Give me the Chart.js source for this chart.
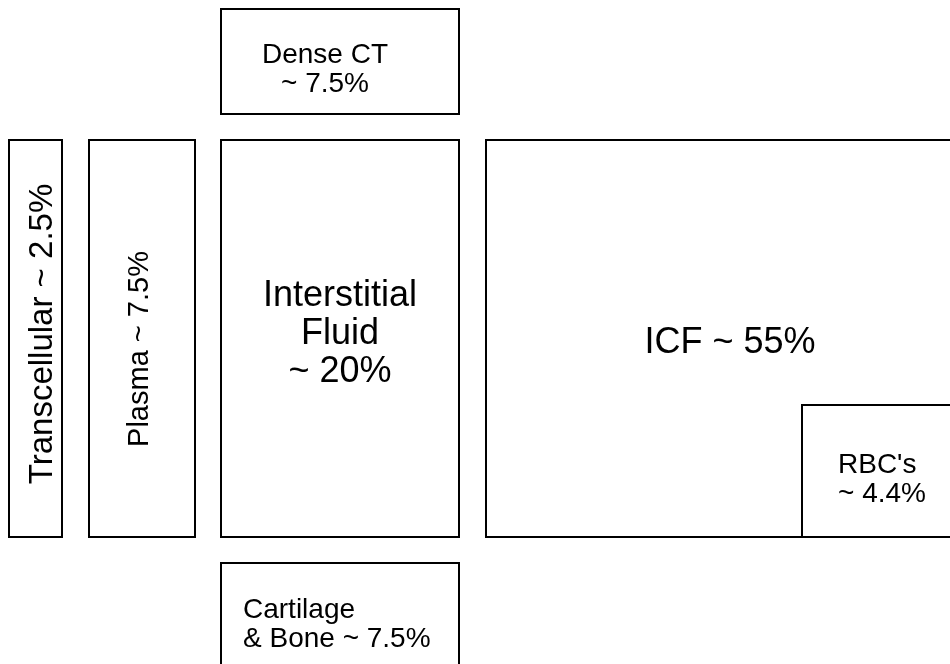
<!DOCTYPE html>
<html>
<head>
<meta charset="utf-8">
<script src="https://cdn.jsdelivr.net/npm/chart.js@4/dist/chart.umd.min.js"></script>
<style>
  html, body { margin: 0; padding: 0; background: #fff; }
  #wrap { width: 950px; height: 664px; }
</style>
</head>
<body>
<div id="wrap"><canvas id="fluids"></canvas></div>
<script>
// compartments of total body water, in diagram units (0..950 x 0..664)
const compartments = ['Dense CT', 'Transcellular', 'Plasma', 'Interstitial Fluid', 'ICF', "RBC's", 'Cartilage & Bone']
const shares = [7.5, 2.5, 7.5, 20, 55, 4.4, 7.5]
const boxLeft = [221, 9, 89, 221, 486, 802, 221]
const boxRight = [459, 62, 195, 459, 990, 990, 459]
const boxTop = [9, 140, 140, 140, 140, 405, 563]
const boxBottom = [114, 537, 537, 537, 537, 537, 700]

// label text and where each label sits
const labelLines = [
  ['Dense CT', '~ 7.5%'],
  ['Transcellular ~ 2.5%'],
  ['Plasma ~ 7.5%'],
  ['Interstitial', 'Fluid', '~ 20%'],
  ['ICF ~ 55%'],
  ["RBC's", '~ 4.4%'],
  ['Cartilage', '& Bone ~ 7.5%']
]
const labelX = [325, 52, 148, 340, 730, 838, 243]
const labelY = [63, 334, 349, 306, 353, 473, 618]
const labelSize = [28, 33, 29, 36, 36, 28, 28]
const labelAlign = ['center', 'center', 'center', 'center', 'center', 'left', 'left']
const labelRotated = [false, true, true, false, false, false, false]

const datasets = compartments.map((name, i) => ({
  label: name,
  data: [
    { x: boxLeft[i], y: boxTop[i] },
    { x: boxRight[i], y: boxTop[i] },
    { x: boxRight[i], y: boxBottom[i] },
    { x: boxLeft[i], y: boxBottom[i] },
    { x: boxLeft[i], y: boxTop[i] }
  ],
  showLine: true,
  borderColor: '#000',
  borderWidth: 2,
  borderCapStyle: 'square',
  borderJoinStyle: 'miter',
  pointRadius: 0,
  fill: false,
  tension: 0
}))

const boxLabels = {
  id: 'boxLabels',
  afterDatasetsDraw(chart) {
    const ctx = chart.ctx
    const xs = chart.scales.x
    const ys = chart.scales.y
    labelLines.forEach((lines, i) => {
      const px = xs.getPixelForValue(labelX[i])
      const py = ys.getPixelForValue(labelY[i])
      const lh = labelSize[i] * 1.05
      ctx.save()
      ctx.fillStyle = '#000'
      ctx.font = labelSize[i] + 'px "Liberation Sans", Arial, sans-serif'
      ctx.textAlign = labelAlign[i]
      ctx.textBaseline = 'alphabetic'
      ctx.translate(px, py)
      if (labelRotated[i]) ctx.rotate(-Math.PI / 2)
      lines.forEach((line, j) => {
        ctx.fillText(line, 0, j * lh)
      })
      ctx.restore()
    })
  }
}

new Chart('fluids', {
  type: 'scatter',
  data: { datasets: datasets },
  options: {
    responsive: true,
    maintainAspectRatio: false,
    animation: false,
    layout: { padding: 0 },
    plugins: {
      legend: { display: false },
      tooltip: { enabled: false }
    },
    scales: {
      x: { type: 'linear', min: 0, max: 950, display: false },
      y: { type: 'linear', min: 0, max: 664, reverse: true, display: false }
    }
  },
  plugins: [boxLabels]
})
</script>
</body>
</html>
